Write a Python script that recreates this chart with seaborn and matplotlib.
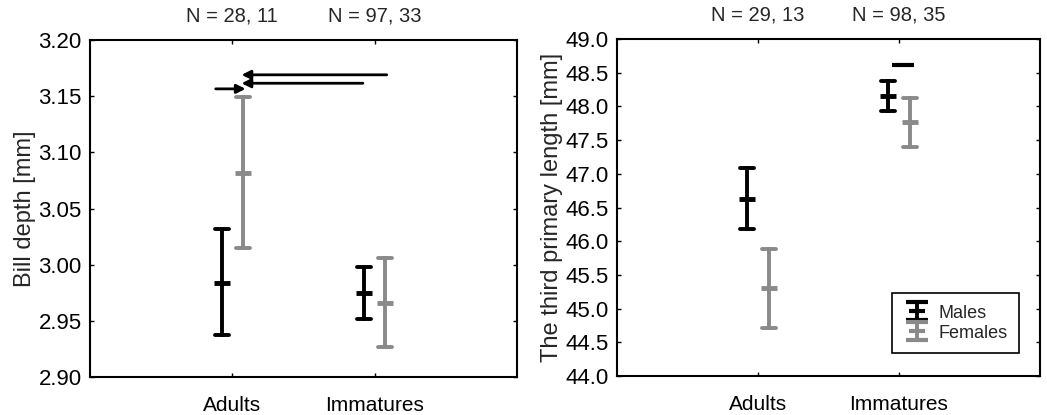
import numpy as np
import pandas as pd
import matplotlib
matplotlib.use("Agg")
import matplotlib.pyplot as plt
import seaborn as sns

# ---- data ----
groups = ["Adults", "Immatures"]
sexes = ["Males", "Females"]

bill_mean_m = [2.984, 2.975]
bill_lo_m = [2.937, 2.952]
bill_hi_m = [3.032, 2.998]
bill_mean_f = [3.082, 2.966]
bill_lo_f = [3.015, 2.927]
bill_hi_f = [3.149, 3.006]

prim_mean_m = [46.63, 48.16]
prim_lo_m = [46.18, 47.93]
prim_hi_m = [47.08, 48.38]
prim_mean_f = [45.30, 47.77]
prim_lo_f = [44.71, 47.40]
prim_hi_f = [45.89, 48.13]

n_bill = ["N = 28, 11", "N = 97, 33"]
n_prim = ["N = 29, 13", "N = 98, 35"]

bill_ticks = [2.90, 2.95, 3.00, 3.05, 3.10, 3.15, 3.20]
prim_ticks = [44.0, 44.5, 45.0, 45.5, 46.0, 46.5, 47.0, 47.5, 48.0, 48.5, 49.0]

# arrows on bill panel: (x_start, y_start, x_end, y_end)
bill_arrows = [(1.085, 3.169, 0.065, 3.169),
               (0.917, 3.1615, 0.065, 3.1615),
               (-0.117, 3.1565, 0.093, 3.1565)]
# significance bar on primary panel
prim_bar = (0.949, 1.107, 48.62)

BLACK = "#000000"
GREY = "#8a8a8a"


def long_df(mean_m, lo_m, hi_m, mean_f, lo_f, hi_f):
    rows = []
    for i, g in enumerate(groups):
        for s, (mn, lo, hi) in zip(sexes, [(mean_m[i], lo_m[i], hi_m[i]),
                                          (mean_f[i], lo_f[i], hi_f[i])]):
            for v in (lo, mn, hi):
                rows.append({"age": g, "sex": s, "value": v})
    return pd.DataFrame(rows)


sns.set_style("ticks")
plt.rcParams["font.family"] = ["Liberation Sans", "DejaVu Sans"]
plt.rcParams["axes.linewidth"] = 1.5

fig = plt.figure(figsize=(10.47, 4.15), dpi=100)
ax1 = fig.add_axes([90 / 1047, 38 / 415, 427 / 1047, 337 / 415])
ax2 = fig.add_axes([617 / 1047, 39 / 415, 423 / 1047, 337 / 415])

panels = [
    (ax1, long_df(bill_mean_m, bill_lo_m, bill_hi_m, bill_mean_f, bill_lo_f, bill_hi_f),
     bill_ticks, "{:.2f}", "Bill depth [mm]", n_bill),
    (ax2, long_df(prim_mean_m, prim_lo_m, prim_hi_m, prim_mean_f, prim_lo_f, prim_hi_f),
     prim_ticks, "{:.1f}", "The third primary length [mm]", n_prim),
]

for ax, df, ticks, fmt, ylabel, ntext in panels:
    sns.pointplot(data=df, x="age", y="value", hue="sex", order=groups,
                  hue_order=sexes, palette=[BLACK, GREY],
                  estimator="median", errorbar=("pi", 100),
                  dodge=0.15, markers="_", linestyle="none",
                  capsize=0.1, err_kws={"linewidth": 2.8},
                  markersize=11, markeredgewidth=3.5,
                  legend=False, ax=ax)
    ax.set_xlim(-1, 2)
    ax.set_ylim(ticks[0], ticks[-1])
    ax.set_yticks(ticks)
    ax.set_yticklabels([fmt.format(t) for t in ticks], fontsize=16)
    ax.set_xlabel("")
    ax.set_ylabel(ylabel, fontsize=17, labelpad=2)
    ax.tick_params(axis="both", direction="in", length=3, width=1,
                   top=True, right=True, colors="black")
    ax.tick_params(axis="x", pad=14, labelsize=15)
    ax.tick_params(axis="y", pad=6)
    for sp in ax.spines.values():
        sp.set_visible(True)
        sp.set_linewidth(1.5)
        sp.set_color("black")
    for i, t in enumerate(ntext):
        ax.annotate(t, xy=(i, 1.0), xycoords=("data", "axes fraction"),
                    xytext=(0, 24), textcoords="offset pixels",
                    ha="center", va="center", fontsize=14.5)

for x0, y0, x1, y1 in bill_arrows:
    ax1.annotate("", xy=(x1, y1), xytext=(x0, y0),
                 arrowprops=dict(arrowstyle="-|>", color="black", lw=2,
                                 mutation_scale=13, shrinkA=0, shrinkB=0))

ax2.hlines(prim_bar[2], prim_bar[0], prim_bar[1], color="black", lw=3)

# legend with errorbar glyphs
h_m = ax2.errorbar([np.nan], [np.nan], yerr=[1.0], fmt="_", color=BLACK,
                   ecolor=BLACK, elinewidth=2.8, capsize=8, capthick=2.8,
                   markersize=11, markeredgewidth=3)
h_f = ax2.errorbar([np.nan], [np.nan], yerr=[1.0], fmt="_", color=GREY,
                   ecolor=GREY, elinewidth=2.8, capsize=8, capthick=2.8,
                   markersize=11, markeredgewidth=3)
leg = ax2.legend([h_m, h_f], sexes, loc="lower right",
                 bbox_to_anchor=(0.95, 0.068), borderaxespad=0,
                 fontsize=13, frameon=True, fancybox=False,
                 handlelength=1.6, labelspacing=0.1, handletextpad=0.4,
                 borderpad=0.6, handleheight=1.0)
leg.get_frame().set_edgecolor("black")
leg.get_frame().set_linewidth(1.2)
leg.get_frame().set_alpha(1)

fig.savefig("out.png", dpi=100)
